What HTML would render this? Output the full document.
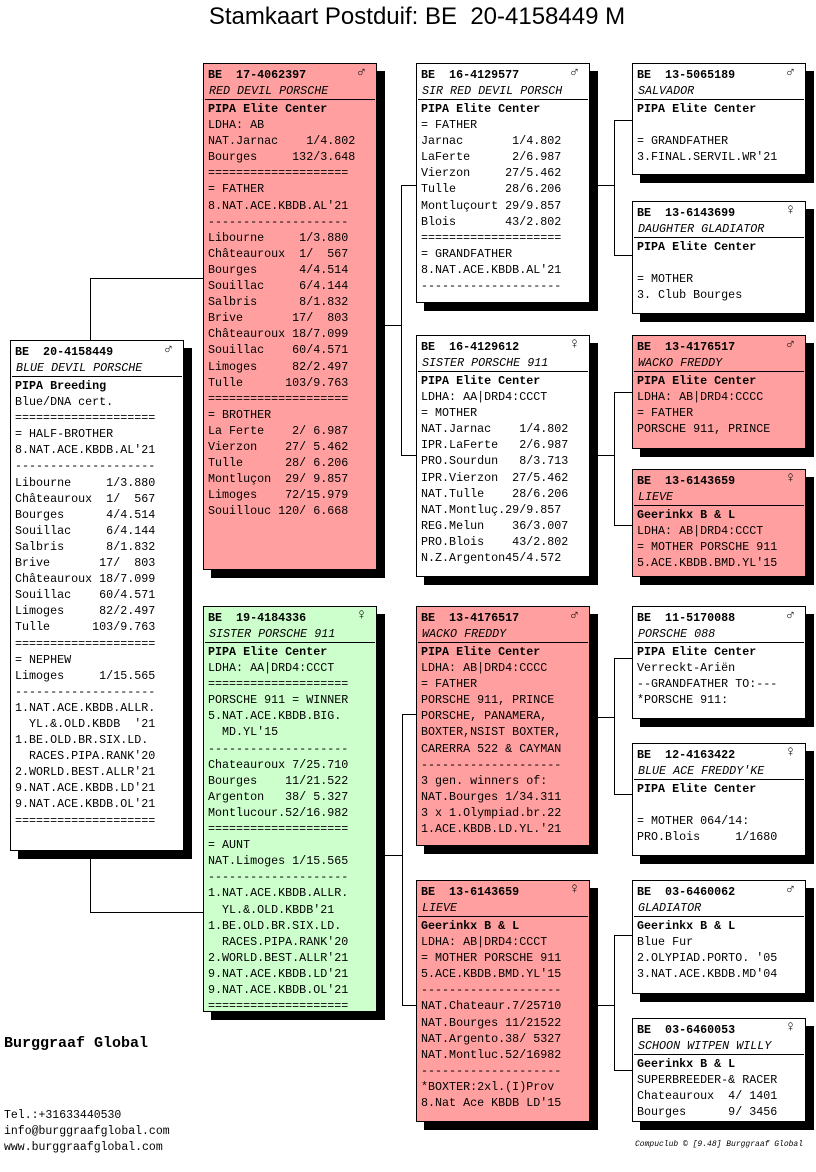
<!DOCTYPE html>
<html><head><meta charset="utf-8"><style>
*{margin:0;padding:0;box-sizing:border-box}
body{width:816px;height:1172px;background:#fff;position:relative;overflow:hidden;font-family:"Liberation Mono",monospace;font-size:11.7px;color:#000}
.t{position:absolute;left:0;width:834px;text-align:center;top:3px;font-family:"Liberation Sans",sans-serif;font-size:24px}
.b{position:absolute;border:1px solid #000;background:#fff;box-shadow:8px 8px 0 #000;width:174px}
.p{background:#ff9f9f}.g{background:#ccffcc}
.h{line-height:16px;padding:3px 0 0 4px;font-weight:bold;position:relative;white-space:pre}
.h span{position:absolute;right:10px;top:1px;font-size:15px}
.n{line-height:16px;padding-left:4px;font-style:italic;border-bottom:1px solid #000;margin:0 1px;white-space:pre}
.c{line-height:16.1px;padding:1px 0 0 4px;white-space:pre}
.l{position:absolute;background:#000}
.ft{position:absolute;left:4px;font-family:"Liberation Mono",monospace}
</style></head><body>
<div class="t">Stamkaart Postduif: BE&nbsp; 20-4158449 M</div>

<!-- connectors -->
<div class="l" style="left:90px;top:278px;width:1px;height:62px"></div>
<div class="l" style="left:90px;top:278px;width:113px;height:1px"></div>
<div class="l" style="left:90px;top:851px;width:1px;height:62px"></div>
<div class="l" style="left:90px;top:912px;width:113px;height:1px"></div>

<div class="l" style="left:376px;top:325px;width:26px;height:1px"></div>
<div class="l" style="left:401px;top:185px;width:1px;height:271px"></div>
<div class="l" style="left:401px;top:185px;width:15px;height:1px"></div>
<div class="l" style="left:401px;top:455px;width:15px;height:1px"></div>

<div class="l" style="left:376px;top:855px;width:26px;height:1px"></div>
<div class="l" style="left:402px;top:714px;width:1px;height:292px"></div>
<div class="l" style="left:402px;top:714px;width:14px;height:1px"></div>
<div class="l" style="left:402px;top:1005px;width:14px;height:1px"></div>

<div class="l" style="left:589px;top:185px;width:25px;height:1px"></div>
<div class="l" style="left:614px;top:120px;width:1px;height:136px"></div>
<div class="l" style="left:614px;top:120px;width:18px;height:1px"></div>
<div class="l" style="left:614px;top:255px;width:18px;height:1px"></div>

<div class="l" style="left:589px;top:455px;width:25px;height:1px"></div>
<div class="l" style="left:614px;top:392px;width:1px;height:134px"></div>
<div class="l" style="left:614px;top:392px;width:18px;height:1px"></div>
<div class="l" style="left:614px;top:525px;width:18px;height:1px"></div>

<div class="l" style="left:589px;top:717px;width:25px;height:1px"></div>
<div class="l" style="left:614px;top:658px;width:1px;height:137px"></div>
<div class="l" style="left:614px;top:658px;width:18px;height:1px"></div>
<div class="l" style="left:614px;top:794px;width:18px;height:1px"></div>

<div class="l" style="left:589px;top:1005px;width:25px;height:1px"></div>
<div class="l" style="left:614px;top:935px;width:1px;height:136px"></div>
<div class="l" style="left:614px;top:935px;width:18px;height:1px"></div>
<div class="l" style="left:614px;top:1070px;width:18px;height:1px"></div>

<!-- main -->
<div class="b" style="left:10px;top:340px;height:511px">
<div class="h">BE  20-4158449<span>♂</span></div>
<div class="n">BLUE DEVIL PORSCHE</div>
<div class="c"><b>PIPA Breeding</b>
Blue/DNA cert.
====================
= HALF-BROTHER
8.NAT.ACE.KBDB.AL'21
--------------------
Libourne     1/3.880
Châteauroux  1/  567
Bourges      4/4.514
Souillac     6/4.144
Salbris      8/1.832
Brive       17/  803
Châteauroux 18/7.099
Souillac    60/4.571
Limoges     82/2.497
Tulle      103/9.763
====================
= NEPHEW
Limoges     1/15.565
--------------------
1.NAT.ACE.KBDB.ALLR.
  YL.&.OLD.KBDB  '21
1.BE.OLD.BR.SIX.LD.
  RACES.PIPA.RANK'20
2.WORLD.BEST.ALLR'21
9.NAT.ACE.KBDB.LD'21
9.NAT.ACE.KBDB.OL'21
====================</div></div>

<!-- gen1 -->
<div class="b p" style="left:203px;top:63px;height:507px">
<div class="h">BE  17-4062397<span>♂</span></div>
<div class="n">RED DEVIL PORSCHE</div>
<div class="c"><b>PIPA Elite Center</b>
LDHA: AB
NAT.Jarnac    1/4.802
Bourges     132/3.648
====================
= FATHER
8.NAT.ACE.KBDB.AL'21
--------------------
Libourne     1/3.880
Châteauroux  1/  567
Bourges      4/4.514
Souillac     6/4.144
Salbris      8/1.832
Brive       17/  803
Châteauroux 18/7.099
Souillac    60/4.571
Limoges     82/2.497
Tulle      103/9.763
====================
= BROTHER
La Ferte    2/ 6.987
Vierzon    27/ 5.462
Tulle      28/ 6.206
Montluçon  29/ 9.857
Limoges    72/15.979
Souillouc 120/ 6.668</div></div>

<div class="b g" style="left:203px;top:606px;height:406px">
<div class="h">BE  19-4184336<span>♀</span></div>
<div class="n">SISTER PORSCHE 911</div>
<div class="c"><b>PIPA Elite Center</b>
LDHA: AA|DRD4:CCCT
====================
PORSCHE 911 = WINNER
5.NAT.ACE.KBDB.BIG.
  MD.YL'15
--------------------
Chateauroux 7/25.710
Bourges    11/21.522
Argenton   38/ 5.327
Montlucour.52/16.982
====================
= AUNT
NAT.Limoges 1/15.565
--------------------
1.NAT.ACE.KBDB.ALLR.
  YL.&.OLD.KBDB'21
1.BE.OLD.BR.SIX.LD.
  RACES.PIPA.RANK'20
2.WORLD.BEST.ALLR'21
9.NAT.ACE.KBDB.LD'21
9.NAT.ACE.KBDB.OL'21
====================</div></div>

<!-- gen2 -->
<div class="b" style="left:416px;top:63px;height:240px">
<div class="h">BE  16-4129577<span>♂</span></div>
<div class="n">SIR RED DEVIL PORSCH</div>
<div class="c"><b>PIPA Elite Center</b>
= FATHER
Jarnac       1/4.802
LaFerte      2/6.987
Vierzon     27/5.462
Tulle       28/6.206
Montluçourt 29/9.857
Blois       43/2.802
====================
= GRANDFATHER
8.NAT.ACE.KBDB.AL'21
--------------------</div></div>

<div class="b" style="left:416px;top:335px;height:242px">
<div class="h">BE  16-4129612<span>♀</span></div>
<div class="n">SISTER PORSCHE 911</div>
<div class="c"><b>PIPA Elite Center</b>
LDHA: AA|DRD4:CCCT
= MOTHER
NAT.Jarnac    1/4.802
IPR.LaFerte   2/6.987
PRO.Sourdun   8/3.713
IPR.Vierzon  27/5.462
NAT.Tulle    28/6.206
NAT.Montluç.29/9.857
REG.Melun    36/3.007
PRO.Blois    43/2.802
N.Z.Argenton45/4.572</div></div>

<div class="b p" style="left:416px;top:606px;height:240px">
<div class="h">BE  13-4176517<span>♂</span></div>
<div class="n">WACKO FREDDY</div>
<div class="c"><b>PIPA Elite Center</b>
LDHA: AB|DRD4:CCCC
= FATHER
PORSCHE 911, PRINCE
PORSCHE, PANAMERA,
BOXTER,NSIST BOXTER,
CARERRA 522 &amp; CAYMAN
--------------------
3 gen. winners of:
NAT.Bourges 1/34.311
3 x 1.Olympiad.br.22
1.ACE.KBDB.LD.YL.'21</div></div>

<div class="b p" style="left:416px;top:880px;height:242px">
<div class="h">BE  13-6143659<span>♀</span></div>
<div class="n">LIEVE</div>
<div class="c"><b>Geerinkx B &amp; L</b>
LDHA: AB|DRD4:CCCT
= MOTHER PORSCHE 911
5.ACE.KBDB.BMD.YL'15
--------------------
NAT.Chateaur.7/25710
NAT.Bourges 11/21522
NAT.Argento.38/ 5327
NAT.Montluc.52/16982
--------------------
*BOXTER:2xl.(I)Prov
8.Nat Ace KBDB LD'15</div></div>

<!-- gen3 -->
<div class="b" style="left:632px;top:63px;height:112px">
<div class="h">BE  13-5065189<span>♂</span></div>
<div class="n">SALVADOR</div>
<div class="c"><b>PIPA Elite Center</b>

= GRANDFATHER
3.FINAL.SERVIL.WR'21</div></div>

<div class="b" style="left:632px;top:201px;height:113px">
<div class="h">BE  13-6143699<span>♀</span></div>
<div class="n">DAUGHTER GLADIATOR</div>
<div class="c"><b>PIPA Elite Center</b>

= MOTHER
3. Club Bourges</div></div>

<div class="b p" style="left:632px;top:335px;height:114px">
<div class="h">BE  13-4176517<span>♂</span></div>
<div class="n">WACKO FREDDY</div>
<div class="c"><b>PIPA Elite Center</b>
LDHA: AB|DRD4:CCCC
= FATHER
PORSCHE 911, PRINCE</div></div>

<div class="b p" style="left:632px;top:469px;height:108px">
<div class="h">BE  13-6143659<span>♀</span></div>
<div class="n">LIEVE</div>
<div class="c"><b>Geerinkx B &amp; L</b>
LDHA: AB|DRD4:CCCT
= MOTHER PORSCHE 911
5.ACE.KBDB.BMD.YL'15</div></div>

<div class="b" style="left:632px;top:606px;height:113px">
<div class="h">BE  11-5170088<span>♂</span></div>
<div class="n">PORSCHE 088</div>
<div class="c"><b>PIPA Elite Center</b>
Verreckt-Ariën
--GRANDFATHER TO:---
*PORSCHE 911:</div></div>

<div class="b" style="left:632px;top:743px;height:113px">
<div class="h">BE  12-4163422<span>♀</span></div>
<div class="n">BLUE ACE FREDDY'KE</div>
<div class="c"><b>PIPA Elite Center</b>

= MOTHER 064/14:
PRO.Blois     1/1680</div></div>

<div class="b" style="left:632px;top:880px;height:114px">
<div class="h">BE  03-6460062<span>♂</span></div>
<div class="n">GLADIATOR</div>
<div class="c"><b>Geerinkx B &amp; L</b>
Blue Fur
2.OLYPIAD.PORTO. '05
3.NAT.ACE.KBDB.MD'04</div></div>

<div class="b" style="left:632px;top:1018px;height:104px">
<div class="h">BE  03-6460053<span>♀</span></div>
<div class="n">SCHOON WITPEN WILLY</div>
<div class="c"><b>Geerinkx B &amp; L</b>
SUPERBREEDER-&amp; RACER
Chateauroux  4/ 1401
Bourges      9/ 3456</div></div>

<div class="ft" style="top:1035px;font-size:15px;font-weight:bold">Burggraaf Global</div>
<div class="ft" style="top:1108px;font-size:11.5px;line-height:16px;white-space:pre">Tel.:+31633440530
info@burggraafglobal.com
www.burggraafglobal.com</div>
<div style="position:absolute;left:635px;top:1140px;font-size:8px;font-style:italic;font-family:'Liberation Mono',monospace">Compuclub © [9.48]  Burggraaf Global</div>
</body></html>
